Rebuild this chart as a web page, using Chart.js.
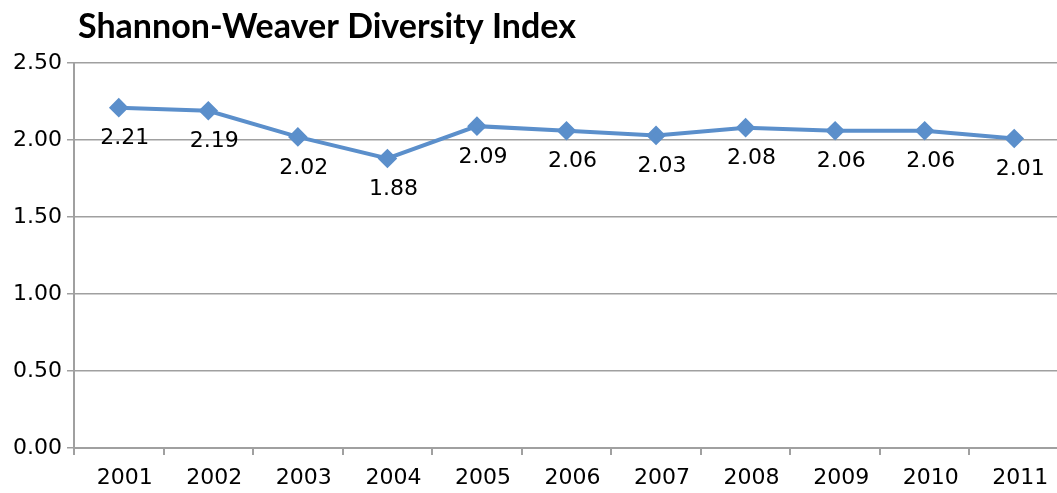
<!DOCTYPE html>
<html><head><meta charset="utf-8">
<script src="https://cdn.jsdelivr.net/npm/chart.js@4/dist/chart.umd.min.js"></script>
<style>html,body{margin:0;padding:0;background:#fff;overflow:hidden;}#wrap{position:relative;width:1070px;height:493px;}</style>
</head><body><div id="wrap"><canvas id="c"></canvas></div>
<script>
const title = "Shannon-Weaver Diversity Index";
const years = ["2001","2002","2003","2004","2005","2006","2007","2008","2009","2010","2011"];
const diversity = [2.21,2.19,2.02,1.88,2.09,2.06,2.03,2.08,2.06,2.06,2.01];
const yTicks = [0,0.5,1,1.5,2,2.5];

const tickFont = {family:"'DejaVu Sans'", size:22};
const labelPlugin = {
  id:'labels',
  afterDatasetsDraw(chart){
    const ctx = chart.ctx; const meta = chart.getDatasetMeta(0);
    ctx.save(); ctx.fillStyle='#000'; ctx.font="22px 'DejaVu Sans'";
    ctx.textAlign='center'; ctx.textBaseline='middle';
    meta.data.forEach((p,i)=>{ ctx.fillText(diversity[i].toFixed(2), p.x+6, p.y+31); });
    ctx.restore();
  },
  afterDraw(chart){
    const ctx = chart.ctx; ctx.save();
    ctx.font="bold 34px Lato"; ctx.fillStyle='#000'; ctx.textBaseline='alphabetic'; ctx.textAlign='left';
    ctx.fillText(title, 78, 38);
    ctx.restore();
  }
};
new Chart(document.getElementById('c'),{
  type:'line',
  data:{labels:years,datasets:[{data:diversity,borderColor:'#5b8fcb',backgroundColor:'#5b8fcb',borderWidth:4,
    pointStyle:'rectRot',pointRadius:7,pointHoverRadius:7,tension:0}]},
  options:{responsive:true,maintainAspectRatio:false,animation:false,
    layout:{padding:{top:63,right:0,left:0,bottom:0}},
    plugins:{legend:{display:false},tooltip:{enabled:false},title:{display:false}},
    scales:{
      x:{offset:true,grid:{offset:true,drawOnChartArea:false,tickLength:7,color:'#a0a0a0',lineWidth:2},
        border:{color:'#a0a0a0',width:2},
        ticks:{font:tickFont,color:'#000',padding:10,maxRotation:0,labelOffset:6},
        afterFit(s){s.height=45;}},
      y:{min:0,max:2.5,afterBuildTicks(s){s.ticks=yTicks.map(v=>({value:v}));},
        grid:{color:'#a0a0a0',lineWidth:1.5,tickLength:7},
        border:{color:'#a0a0a0',width:2},
        ticks:{font:tickFont,color:'#000',padding:5,callback:v=>v.toFixed(2)},
        afterFit(s){s.width=74;}}
    }},
  plugins:[labelPlugin]
});
</script></body></html>
